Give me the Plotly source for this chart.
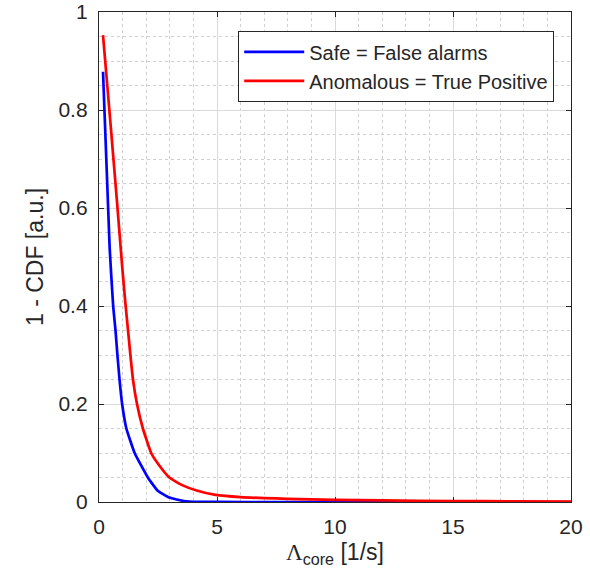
import plotly.graph_objects as go

# --- data ---
safe_x = [0.17, 0.45, 0.6, 0.7, 0.78, 0.87, 0.98, 1.16, 1.51, 2.07, 2.49, 2.98, 3.6, 4.2, 5.0, 7.5, 10, 12.5, 15, 17.5, 20]
safe_y = [0.878, 0.52, 0.40, 0.35, 0.30, 0.25, 0.20, 0.15, 0.10, 0.05, 0.023, 0.009, 0.002, 0.0003, 0.0001, 0, 0, 0, 0, 0, 0]

anom_x = [0.17, 0.5, 0.75, 1.0, 1.12, 1.23, 1.33, 1.44, 1.61, 1.86, 2.21, 2.5, 2.98, 3.5, 4.17, 4.94, 6, 7, 8, 10, 12, 15, 17.5, 20]
anom_y = [0.953, 0.765, 0.62, 0.47, 0.405, 0.35, 0.30, 0.25, 0.20, 0.15, 0.10, 0.078, 0.05, 0.035, 0.023, 0.0145, 0.010, 0.008, 0.0065, 0.0045, 0.0032, 0.002, 0.0015, 0.001]

series_names = ["Safe = False alarms", "Anomalous = True Positive"]
series_colors = ["#0000ff", "#ff0000"]

x_title = "<span style=\"font-family:'Liberation Serif', 'DejaVu Serif', serif\">Λ</span><sub>core</sub> [1/s]"
y_title = "1 - CDF [a.u.]"

FONT = "Liberation Sans, Arial, Helvetica, sans-serif"
TXT = "#262626"
AX = "#262626"

fig = go.Figure()
for xs, ys, nm, col in [(safe_x, safe_y, series_names[0], series_colors[0]),
                        (anom_x, anom_y, series_names[1], series_colors[1])]:
    fig.add_trace(go.Scatter(x=xs, y=ys, mode="lines", name=nm,
                             line=dict(color=col, width=2.7, shape="spline", smoothing=0.4)))

axis_common = dict(
    showline=True, linecolor=AX, linewidth=1.4, mirror="ticks",
    ticks="inside", ticklen=5, tickwidth=1.2, tickcolor=AX,
    showgrid=True, gridcolor="#dadada", gridwidth=1,
    zeroline=False,
    tickfont=dict(family=FONT, size=21, color=TXT),
    ticklabelstandoff=6,
)

fig.update_xaxes(
    range=[0, 20], tickmode="linear", tick0=0, dtick=5,
    minor=dict(tickmode="linear", tick0=0, dtick=1, showgrid=True,
               gridcolor="#cfcfcf", griddash="dot", gridwidth=1, ticks=""),
    title=dict(text=x_title, font=dict(family=FONT, size=23, color=TXT), standoff=6),
    **axis_common,
)
fig.update_yaxes(
    range=[0, 1], tickmode="linear", tick0=0, dtick=0.2,
    minor=dict(tickmode="linear", tick0=0, dtick=0.05, showgrid=True,
               gridcolor="#cfcfcf", griddash="dot", gridwidth=1, ticks=""),
    title=dict(text=y_title, font=dict(family=FONT, size=23, color=TXT), standoff=8),
    **axis_common,
)

fig.update_layout(
    width=590, height=582,
    margin=dict(l=99, r=19, t=12, b=80, autoexpand=False),
    paper_bgcolor="white", plot_bgcolor="white",
    font=dict(family=FONT, color=TXT),
    showlegend=True,
    legend=dict(
        x=0.964, y=0.961, xanchor="right", yanchor="top",
        bgcolor="white", bordercolor="#262626", borderwidth=1.2,
        font=dict(family=FONT, size=20, color=TXT),
        tracegroupgap=0, itemwidth=60,
    ),
)

fig.write_html("out.html")
